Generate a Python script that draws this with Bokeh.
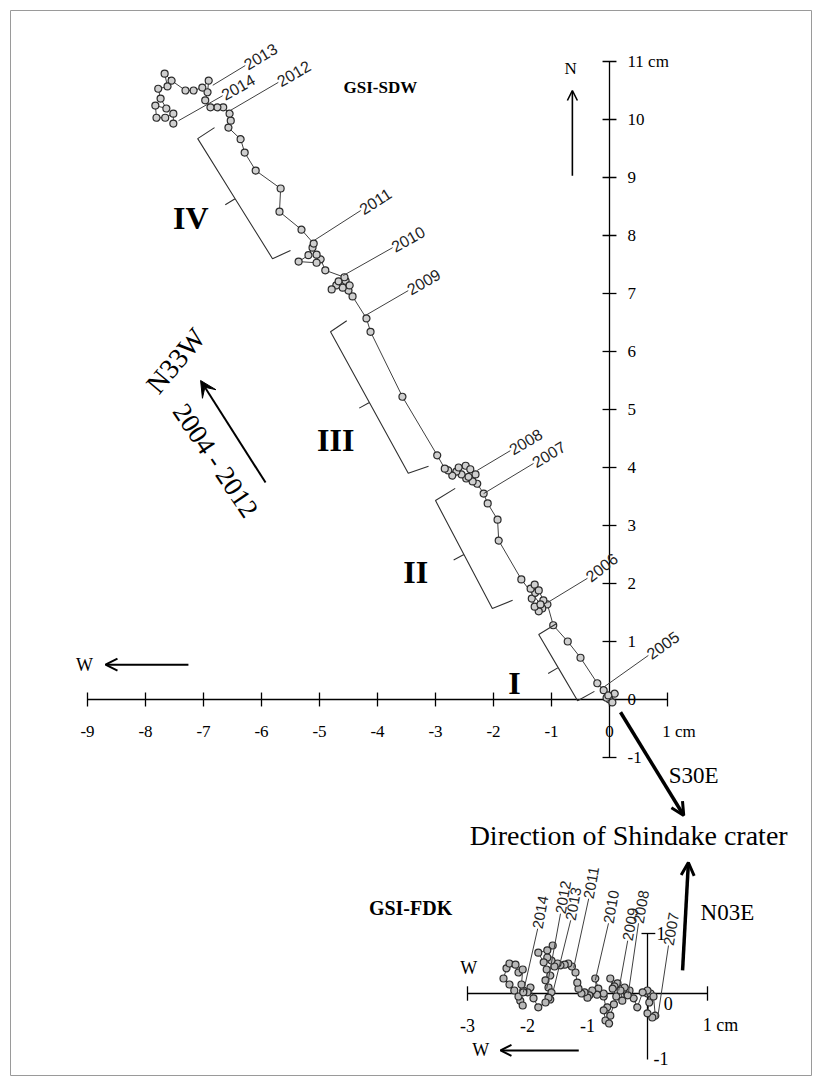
import numpy as np
from bokeh.plotting import figure
from bokeh.models import Range1d, Arrow, OpenHead, VeeHead
from bokeh.core.properties import value
from bokeh.embed import file_html
from bokeh.resources import INLINE

SERIF = value("Liberation Serif")
SANS = value("Liberation Sans")

# ---------------- GSI-SDW horizontal displacement (cm) ----------------
sdw_east = [0.00, 0.05, -0.05, 0.09, -0.02, -0.10, -0.21, -0.50, -0.72, -0.97,
            -1.07, -1.16, -1.22, -1.29, -1.34, -1.28, -1.36, -1.29, -1.22, -1.14,
            -1.19, -1.52, -1.91, -1.93, -2.10, -2.17, -2.28, -2.36, -2.47, -2.55,
            -2.64, -2.71, -2.60, -2.48, -2.40, -2.31, -2.43, -2.78, -2.84, -2.97,
            -3.57, -4.12, -4.19, -4.43, -4.50, -4.60, -4.71, -4.79, -4.67, -4.55,
            -4.48, -4.57, -4.90, -4.98, -5.05, -5.12, -5.19, -5.36, -5.05, -5.10,
            -5.31, -5.69, -5.67, -6.10, -6.29, -6.36, -6.57, -6.53, -6.55, -6.66,
            -6.76, -6.88, -6.97, -6.93, -6.91, -7.02, -7.17, -7.31, -7.55, -7.67,
            -7.62, -7.78, -7.74, -7.64, -7.83, -7.81, -7.66, -7.52, -7.52]
sdw_north = [0.00, -0.05, 0.03, 0.10, 0.07, 0.16, 0.28, 0.72, 1.00, 1.28,
             1.64, 1.57, 1.52, 1.60, 1.74, 1.84, 1.91, 1.98, 1.88, 1.71,
             1.64, 2.07, 2.74, 3.10, 3.38, 3.55, 3.72, 3.76, 3.81, 3.88,
             3.93, 3.86, 4.00, 4.03, 3.97, 3.88, 3.84, 3.95, 3.98, 4.21,
             5.22, 6.34, 6.57, 6.95, 7.05, 7.10, 7.14, 7.07, 7.21, 7.22,
             7.14, 7.28, 7.40, 7.59, 7.67, 7.79, 7.66, 7.55, 7.53, 7.86,
             8.10, 8.41, 8.81, 9.12, 9.43, 9.66, 9.86, 9.98, 10.10, 10.21,
             10.21, 10.21, 10.33, 10.47, 10.67, 10.55, 10.50, 10.50, 10.67, 10.79,
             10.57, 10.53, 10.36, 10.19, 10.24, 10.03, 10.03, 10.10, 9.93]

# ---------------- GSI-FDK horizontal displacement (cm) ----------------
fdk_east = [0.00, 0.05, 0.10, 0.13, 0.08, 0.00, 0.03, 0.00, -0.08, -0.17,
            -0.23, -0.30, -0.33, -0.38, -0.42, -0.45, -0.50, -0.55, -0.62, -0.58,
            -0.52, -0.56, -0.62, -0.67, -0.73, -0.70, -0.64, -0.73, -0.73, -0.82,
            -0.87, -0.84, -0.92, -0.97, -1.00, -1.05, -1.10, -1.15, -1.17, -1.20,
            -1.26, -1.32, -1.38, -1.45, -1.50, -1.55, -1.60, -1.67, -1.58, -1.67,
            -1.82, -1.73, -1.68, -1.62, -1.70, -1.65, -1.60, -1.62, -1.65, -1.70,
            -1.82, -1.90, -1.95, -2.00, -2.07, -2.12, -2.08, -2.15, -2.22, -2.30,
            -2.40, -2.35, -2.30, -2.20, -2.15, -2.08, -2.10, -2.07]
fdk_north = [0.00, 0.00, -0.05, -0.37, -0.40, -0.33, -0.15, 0.05, 0.02, -0.23,
             -0.08, 0.05, -0.03, 0.10, -0.12, 0.05, 0.17, 0.12, 0.25, 0.08,
             -0.05, -0.18, -0.37, -0.23, -0.28, -0.45, -0.50, -0.05, 0.00, 0.08,
             0.25, -0.02, 0.05, -0.03, -0.07, 0.02, 0.00, 0.08, 0.18, 0.35,
             0.45, 0.50, 0.48, 0.47, 0.50, 0.45, 0.55, 0.60, 0.80, 0.72,
             0.68, 0.52, 0.40, 0.30, 0.22, 0.10, 0.02, -0.10, -0.07, -0.15,
             -0.23, -0.08, 0.10, 0.02, 0.05, -0.12, -0.20, -0.05, 0.05, 0.15,
             0.25, 0.42, 0.50, 0.48, 0.35, 0.40, 0.15, 0.02]

# ---------------- tick labels ----------------
main_x_ticks = [-9, -8, -7, -6, -5, -4, -3, -2, -1, 0, 1]
main_x_labels = ["-9", "-8", "-7", "-6", "-5", "-4", "-3", "-2", "-1", "0", "1 cm"]
main_y_ticks = [-1, 0, 1, 2, 3, 4, 5, 6, 7, 8, 9, 10, 11]
main_y_labels = ["-1", "0", "1", "2", "3", "4", "5", "6", "7", "8", "9", "10", "11 cm"]
inset_x_ticks = [-3, -2, -1, 1]
inset_x_labels = ["-3", "-2", "-1", "1 cm"]

sdw_years = ["2005", "2006", "2007", "2008", "2009", "2010", "2011", "2012", "2013", "2014"]
fdk_years = ["2007", "2008", "2009", "2010", "2011", "2012", "2013", "2014"]
stages = ["I", "II", "III", "IV"]

# ---------------- figure ----------------
W, H = 812, 1078
S = 58.0          # px per cm, main panel
OX, OY = 609, 699  # main origin on the canvas
SI = 60.0         # px per cm, inset
IX, IY = 647, 993  # inset origin on the canvas

p = figure(width=W, height=H, output_backend="svg", toolbar_location=None,
           x_range=Range1d(-OX / S, (W - OX) / S), y_range=Range1d((OY - H) / S, OY / S),
           x_axis_location=None, y_axis_location=None, min_border=0)
p.extra_x_ranges = {"ix": Range1d(-IX / SI, (W - IX) / SI)}
p.extra_y_ranges = {"iy": Range1d((IY - H) / SI, IY / SI)}
p.grid.visible = False
p.outline_line_color = None
p.background_fill_color = "white"
p.border_fill_color = "white"

K = "black"

# page frame
p.quad(left=[(10 - OX) / S], right=[(811 - OX) / S], top=[(OY - 10) / S], bottom=[(OY - 1075) / S],
       fill_color=None, line_color="#9a9a9a", line_width=1)

# ---- main axes ----
p.segment(x0=[main_x_ticks[0]], y0=[0], x1=[main_x_ticks[-1]], y1=[0], line_color=K, line_width=1.3)
p.segment(x0=[0], y0=[main_y_ticks[0]], x1=[0], y1=[main_y_ticks[-1]], line_color=K, line_width=1.3)
p.segment(x0=main_x_ticks, y0=[-0.12] * len(main_x_ticks), x1=main_x_ticks, y1=[0.12] * len(main_x_ticks),
          line_color=K, line_width=1.3)
p.segment(x0=[-0.12] * len(main_y_ticks), y0=main_y_ticks, x1=[0.12] * len(main_y_ticks), y1=main_y_ticks,
          line_color=K, line_width=1.3)
p.text(x=main_x_ticks[:-1], y=[-0.55] * (len(main_x_ticks) - 1), text=main_x_labels[:-1],
       text_font=SERIF, text_font_size="17px", text_align="center", text_baseline="middle", text_color=K)
p.text(x=[main_x_ticks[-1] - 0.09], y=[-0.55], text=[main_x_labels[-1]],
       text_font=SERIF, text_font_size="17px", text_align="left", text_baseline="middle", text_color=K)
p.text(x=[0.31] * len(main_y_ticks), y=main_y_ticks, text=main_y_labels,
       text_font=SERIF, text_font_size="17px", text_align="left", text_baseline="middle", text_color=K)

# ---- SDW trajectory ----
p.line(sdw_east, sdw_north, line_color="#404040", line_width=1)
p.scatter(sdw_east, sdw_north, size=7, marker="circle", line_color="#2a2a2a",
          fill_color="#cfcfcf", line_width=1.2)

# year leaders (point -> label)
lead_x0 = [-0.09, -1.07, -2.17, -2.28, -4.21, -4.59, -5.10, -6.53, -6.84, -7.43]
lead_y0 = [0.22, 1.67, 3.55, 3.95, 6.62, 7.31, 7.91, 10.16, 10.59, 9.98]
lead_x1 = [0.67, -0.38, -1.31, -1.71, -3.47, -3.74, -4.29, -5.71, -6.28, -6.67]
lead_y1 = [0.76, 2.09, 4.07, 4.29, 7.05, 7.79, 8.43, 10.64, 10.93, 10.41]
p.segment(x0=lead_x0, y0=lead_y0, x1=lead_x1, y1=lead_y1, line_color="#404040", line_width=1)
angs = [float(np.arctan2(b1 - b0, a1 - a0)) for a0, b0, a1, b1 in zip(lead_x0, lead_y0, lead_x1, lead_y1)]
angs[1] = float(np.deg2rad(38))
p.text(x=lead_x1, y=lead_y1, text=sdw_years, angle=angs, text_font=SANS, text_font_size="16px",
       text_align="left", text_baseline="middle", text_color="#222222")

# stage braces
def brace(te, c1, c2, be, depth=0.2):
    mid = ((c1[0] + c2[0]) / 2, (c1[1] + c2[1]) / 2)
    d = np.array([c2[0] - c1[0], c2[1] - c1[1]])
    d = d / np.hypot(*d)
    perp = np.array([-d[1], d[0]])
    if perp[0] > 0:
        perp = -perp
    tip = (mid[0] + perp[0] * depth, mid[1] + perp[1] * depth)
    xs = [te[0], c1[0], mid[0], tip[0], mid[0], c2[0], be[0]]
    ys = [te[1], c1[1], mid[1], tip[1], mid[1], c2[1], be[1]]
    return xs, ys

br = [
    brace((-0.91, 1.31), (-1.22, 1.12), (-0.55, -0.02), (-0.26, 0.14)),
    brace((-2.66, 3.64), (-3.00, 3.43), (-2.02, 1.57), (-1.67, 1.71)),
    brace((-4.53, 6.53), (-4.81, 6.34), (-3.47, 3.90), (-3.12, 4.02)),
    brace((-6.81, 9.86), (-7.10, 9.67), (-5.81, 7.60), (-5.50, 7.74)),
]
p.multi_line(xs=[b[0] for b in br], ys=[b[1] for b in br], line_color="#303030", line_width=1.1)
p.text(x=[-1.64, -3.34, -4.72, -7.22], y=[0.28, 2.19, 4.47, 8.31], text=stages,
       text_font=SERIF, text_font_size="32px", text_font_style="bold",
       text_align="center", text_baseline="middle", text_color=K)

p.text(x=[-3.95], y=[10.55], text=["GSI-SDW"], text_font=SERIF, text_font_size="17px",
       text_font_style="bold", text_align="center", text_baseline="middle", text_color=K)

# North arrow
p.add_layout(Arrow(end=OpenHead(size=10, line_width=1.6, line_color=K), x_start=-0.64, y_start=9.03,
                   x_end=-0.64, y_end=10.50, line_width=1.6, line_color=K))
p.text(x=[-0.67], y=[10.88], text=["N"], text_font=SERIF, text_font_size="17px",
       text_align="center", text_baseline="middle", text_color=K)
# West arrow
p.add_layout(Arrow(end=OpenHead(size=12, line_width=2, line_color=K), x_start=-7.26, y_start=0.60,
                   x_end=-8.69, y_end=0.60, line_width=2, line_color=K))
p.text(x=[-9.05], y=[0.60], text=["W"], text_font=SERIF, text_font_size="18px",
       text_align="center", text_baseline="middle", text_color=K)

# N33W trend arrow
p.add_layout(Arrow(end=VeeHead(size=16, line_color=K, fill_color=K), x_start=-5.93, y_start=3.74,
                   x_end=-7.05, y_end=5.50, line_width=2, line_color=K))
p.text(x=[-7.48], y=[5.84], text=["N33W"], angle=np.deg2rad(50), text_font=SERIF,
       text_font_size="28px", text_align="center", text_baseline="middle", text_color=K)
p.text(x=[-6.79], y=[4.12], text=["2004 - 2012"], angle=np.deg2rad(-56), text_font=SERIF,
       text_font_size="27px", text_align="center", text_baseline="middle", text_color=K)

# S30E arrow to crater
p.add_layout(Arrow(end=OpenHead(size=13, line_width=3, line_color=K), x_start=0.19, y_start=-0.22,
                   x_end=1.28, y_end=-2.0, line_width=3.5, line_color=K))
p.text(x=[1.02], y=[-1.31], text=["S30E"], text_font=SERIF, text_font_size="23px",
       text_align="left", text_baseline="middle", text_color=K)
p.text(x=[0.33], y=[-2.34], text=["Direction of Shindake crater"], text_font=SERIF,
       text_font_size="28px", text_align="center", text_baseline="middle", text_color=K)
# N03E arrow
p.add_layout(Arrow(end=OpenHead(size=13, line_width=3, line_color=K), x_start=1.26, y_start=-4.67,
                   x_end=1.36, y_end=-2.81, line_width=3.5, line_color=K))
p.text(x=[1.57], y=[-3.67], text=["N03E"], text_font=SERIF, text_font_size="23px",
       text_align="left", text_baseline="middle", text_color=K)

p.text(x=[-3.43], y=[-3.60], text=["GSI-FDK"], text_font=SERIF, text_font_size="20px",
       text_font_style="bold", text_align="center", text_baseline="middle", text_color=K)

# ---------------- inset (GSI-FDK) ----------------
R = dict(x_range_name="ix", y_range_name="iy")
p.segment(x0=[inset_x_ticks[0]], y0=[0], x1=[inset_x_ticks[-1]], y1=[0], line_color=K, line_width=1.3, **R)
p.segment(x0=[0], y0=[-1.1], x1=[0], y1=[1], line_color=K, line_width=1.3, **R)
p.segment(x0=[inset_x_ticks[0], inset_x_ticks[-1]], y0=[-0.12, -0.12], x1=[inset_x_ticks[0], inset_x_ticks[-1]],
          y1=[0.12, 0.12], line_color=K, line_width=1.3, **R)
p.segment(x0=[-0.1], y0=[1], x1=[0.13], y1=[1], line_color=K, line_width=1.3, **R)
p.text(x=inset_x_ticks[:-1], y=[-0.53] * 3, text=inset_x_labels[:-1], text_font=SERIF, text_font_size="18px",
       text_align="center", text_baseline="middle", text_color=K, **R)
p.text(x=[inset_x_ticks[-1] - 0.08], y=[-0.53], text=[inset_x_labels[-1]], text_font=SERIF,
       text_font_size="18px", text_align="left", text_baseline="middle", text_color=K, **R)
p.text(x=[0.27, 0.15, 0.1], y=[-0.17, 1.0, -1.08], text=["0", "1", "-1"], text_font=SERIF,
       text_font_size="18px", text_align="left", text_baseline="middle", text_color=K, **R)
p.text(x=[-2.98], y=[0.42], text=["W"], text_font=SERIF, text_font_size="18px",
       text_align="center", text_baseline="middle", text_color=K, **R)

p.line(fdk_east, fdk_north, line_color="#404040", line_width=1, **R)
p.scatter(fdk_east, fdk_north, size=7, marker="circle", line_color="#2a2a2a",
          fill_color="#b8b8b8", line_width=1.2, **R)

il_x0 = [0.17, -0.32, -0.48, -0.87, -1.23, -1.68, -1.57, -2.07]
il_y0 = [-0.40, 0.00, 0.05, 0.22, 0.43, 0.08, 0.05, 0.02]
il_x1 = [0.35, -0.15, -0.33, -0.65, -0.98, -1.45, -1.28, -1.83]
il_y1 = [0.80, 1.17, 0.88, 1.17, 1.58, 1.33, 1.22, 1.08]
p.segment(x0=il_x0, y0=il_y0, x1=il_x1, y1=il_y1, line_color="#404040", line_width=1, **R)
p.text(x=il_x1, y=il_y1, text=fdk_years, angle=np.deg2rad(80), text_font=SANS, text_font_size="15px",
       text_align="left", text_baseline="middle", text_color="#222222", **R)

# bottom W arrow
p.add_layout(Arrow(end=OpenHead(size=11, line_width=2, line_color=K), x_start=-0.53, y_start=-6.05,
                   x_end=-1.88, y_end=-6.05, line_width=2, line_color=K))
p.text(x=[-2.22], y=[-6.05], text=["W"], text_font=SERIF, text_font_size="18px",
       text_align="center", text_baseline="middle", text_color=K)

open("out.html", "w").write(file_html(p, INLINE))
